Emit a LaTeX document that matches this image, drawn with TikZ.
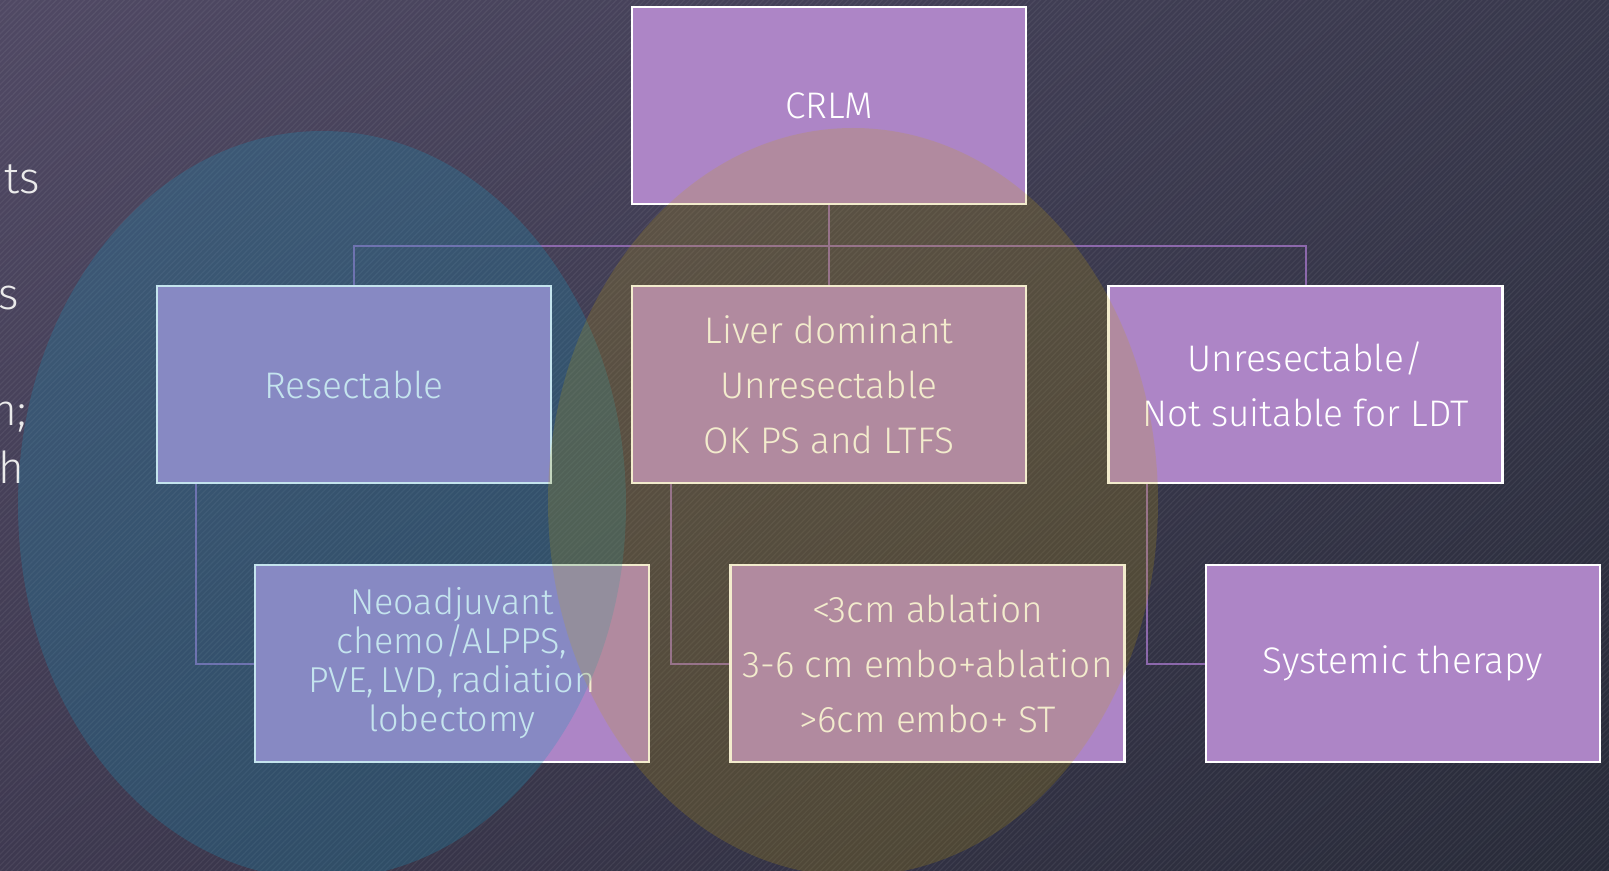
\documentclass[tikz,border=0pt]{standalone}
\usepackage{fontspec}
\setmainfont{Fira Sans}[UprightFont=* Light]
\usetikzlibrary{patterns.meta,shadings}

\definecolor{bgtl}{RGB}{80,73,100}
\definecolor{bgtr}{RGB}{56,56,76}
\definecolor{bgbl}{RGB}{62,57,80}
\definecolor{bgbr}{RGB}{40,43,57}
\definecolor{boxfill}{RGB}{173,133,198}
\definecolor{linkc}{RGB}{140,104,172}
\definecolor{vennblue}{RGB}{23,150,190}
\definecolor{vennorange}{RGB}{197,162,6}

\tikzset{
  box/.style={draw=white, line width=1.2pt, fill=boxfill, text=white,
    minimum width=197pt, minimum height=98.5pt, inner sep=0pt, align=center,
    font=\fontsize{18.5}{27.5}\selectfont},
  link/.style={draw=linkc, line width=1pt},
  sidetext/.style={anchor=base east, inner sep=0pt, text=white!92!black,
    font=\fontsize{22}{26}\selectfont},
}

\begin{document}
\begin{tikzpicture}[x=0.5pt,y=-0.5pt]
    \useasboundingbox (0,0) rectangle (1609,871);
    \clip (0,0) rectangle (1609,871);

    % backdrop
    \shade[upper left=bgtl, upper right=bgtr, lower left=bgbl, lower right=bgbr] (0,0) rectangle (1609,871);
    \begin{scope}[transparency group, opacity=.06]
      \fill[pattern={Lines[angle=45,distance=2pt,line width=.6pt]}, pattern color=white] (0,0) rectangle (1609,871);
    \end{scope}

    % cut-off text on the left
    \node[sidetext] (side1) at (40,194) {ts};
    \node[sidetext] (side2) at (19,310) {s};
    \node[sidetext] (side3) at (27,425) {n;};
    \node[sidetext] (side4) at (25,483) {h};

    % boxes
    \node[box] (crlm) at (829,105.5) {CRLM};
    \node[box] (resect) at (354,384.5) {Resectable};
    \node[box] (liver) at (829,384.5) {Liver dominant\\Unresectable\\OK PS and LTFS};
    \node[box] (unres) at (1305.5,384.5) {Unresectable/\\Not suitable for LDT};
    \node[box, font=\fontsize{18}{19.5}\selectfont] (neo) at (452,663.5) {Neoadjuvant\\chemo/ALPPS,\\PVE,\,LVD,\,radiation\\lobectomy};
    \node[box] (ablate) at (927.5,663.5) {<3cm ablation\\3-6 cm embo+ablation\\>6cm embo+ ST};
    \node[box] (syst) at (1403,663.5) {Systemic therapy};

    % connectors
    \draw[link] (crlm.south) -- (liver.north);
    \draw[link] (crlm.south) -- ++(0,41) -| (resect.north);
    \draw[link] (crlm.south) -- ++(0,41) -| (unres.north);
    \draw[link] ([xshift=20pt]resect.south west) |- (neo.west);
    \draw[link] ([xshift=20pt]liver.south west) |- (ablate.west);
    \draw[link] ([xshift=20pt]unres.south west) |- (syst.west);

    % overlapping ellipses
    \fill[vennblue, fill opacity=.25] (322,505) ellipse [x radius=152pt, y radius=187pt];
    \fill[vennorange, fill opacity=.2] (853,502) ellipse [x radius=152.5pt, y radius=187pt];
\end{tikzpicture}
\end{document}
